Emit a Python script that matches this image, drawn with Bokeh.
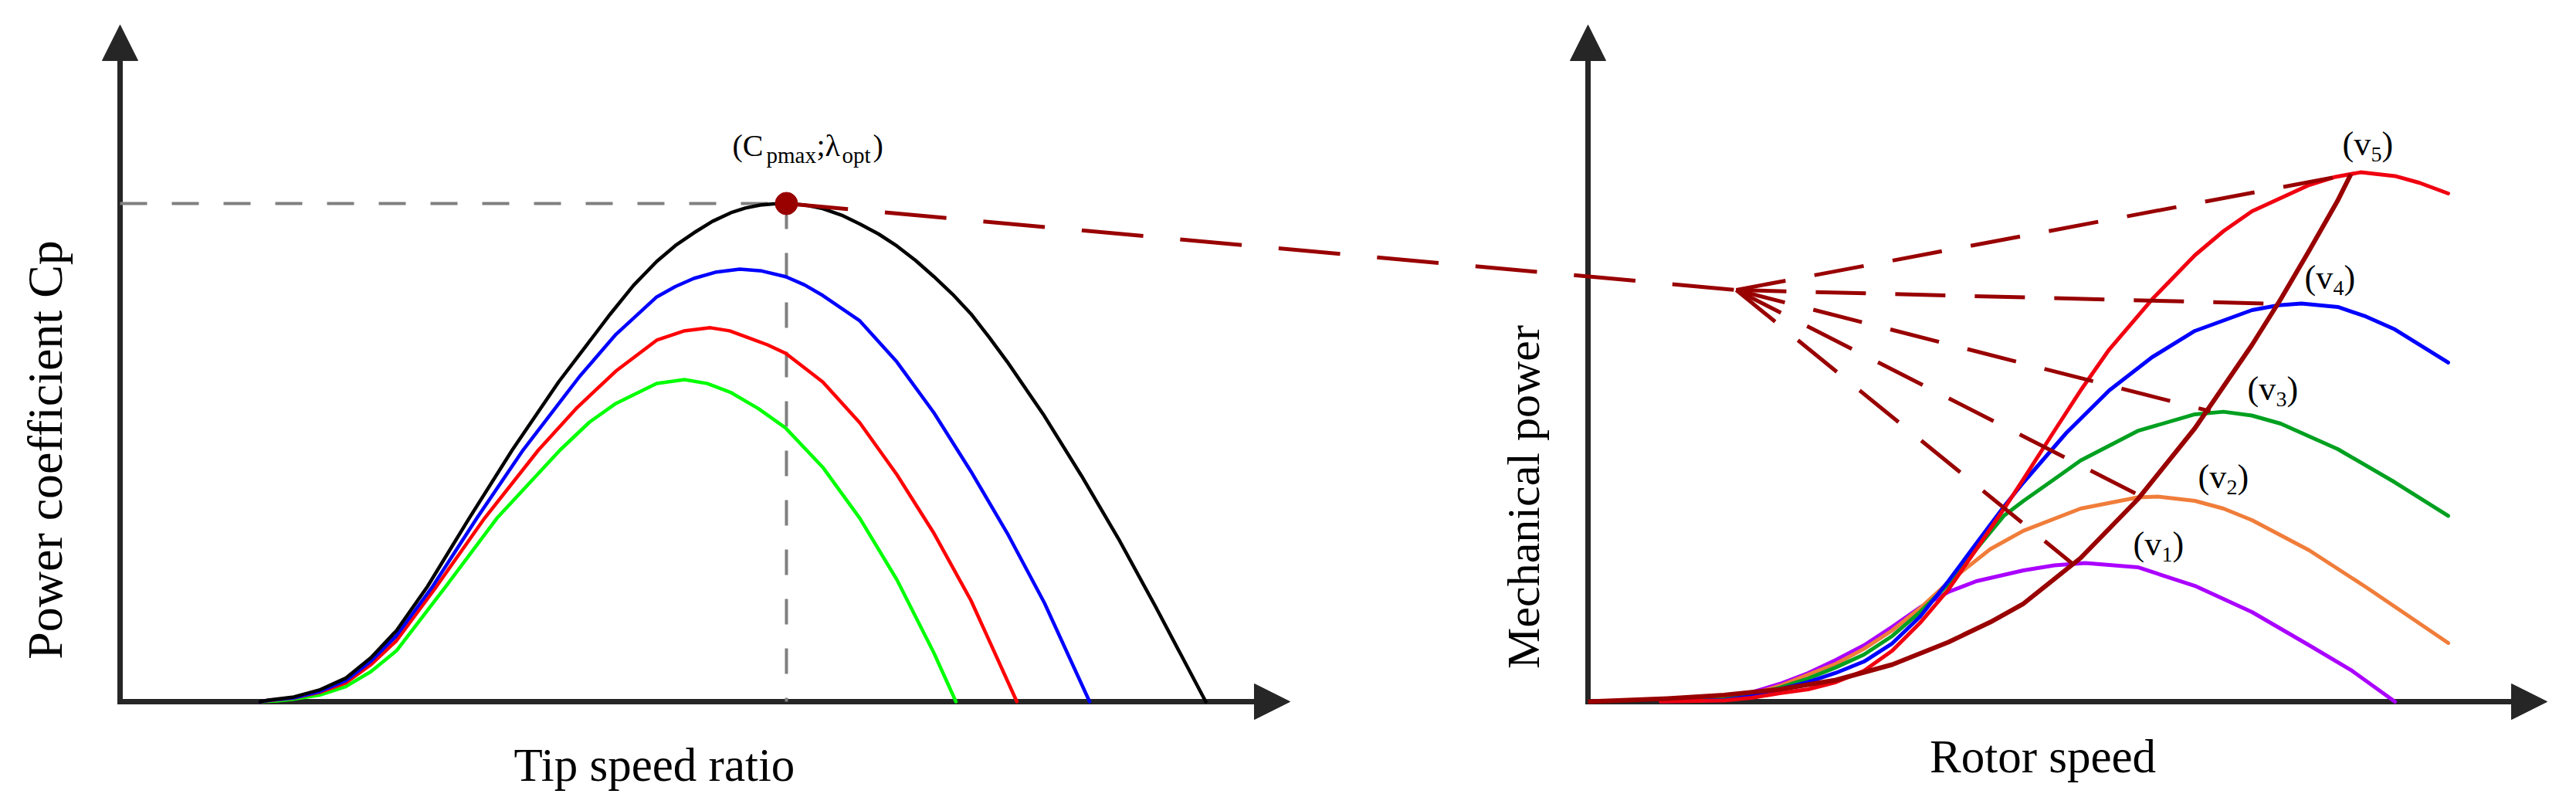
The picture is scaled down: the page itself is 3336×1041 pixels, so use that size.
from bokeh.plotting import figure
from bokeh.models import Range1d, Arrow, NormalHead, Label
from bokeh.embed import file_html
from bokeh.resources import INLINE
import math

# ---------------- data: left panel, power coefficient vs tip speed ratio ----------------
tsr_b0 = [1.70, 1.802, 2.112, 2.422, 2.741, 3.050, 3.360, 3.736, 4.243, 4.768, 5.331, 5.960, 6.240, 6.523, 6.750,
          6.974, 7.200, 7.424, 7.600, 7.781, 7.940, 8.100, 8.320, 8.541, 8.770, 8.992, 9.220, 9.442, 9.670, 9.893,
          10.120, 10.343, 10.560, 10.785, 11.235, 11.686, 12.136, 12.587, 13.197]
cp_b0 = [0.0, 0.0015, 0.0045, 0.0112, 0.0226, 0.0424, 0.0685, 0.1109, 0.1767, 0.2426, 0.3081, 0.3736, 0.4010, 0.4242,
         0.4395, 0.4517, 0.4628, 0.4711, 0.4756, 0.4785, 0.4797, 0.4800, 0.4786, 0.4751, 0.4688, 0.4603, 0.4506,
         0.4391, 0.4251, 0.4095, 0.3925, 0.3736, 0.3515, 0.3274, 0.2753, 0.2177, 0.1570, 0.0915, 0.0]

tsr_b1 = [1.70, 1.830, 2.112, 2.422, 2.741, 3.050, 3.360, 3.801, 4.336, 4.900, 5.585, 6.026, 6.523, 6.750, 6.974,
          7.250, 7.533, 7.800, 8.091, 8.320, 8.541, 8.992, 9.442, 9.893, 10.343, 10.785, 11.235, 11.785]
cp_b1 = [0.0, 0.0015, 0.0037, 0.0097, 0.0201, 0.0391, 0.0636, 0.1112, 0.1767, 0.2426, 0.3133, 0.3538, 0.3900, 0.4000,
         0.4078, 0.4140, 0.4167, 0.4150, 0.4095, 0.4016, 0.3914, 0.3669, 0.3274, 0.2783, 0.2218, 0.1622, 0.0953, 0.0]

tsr_b2 = [1.70, 1.858, 2.112, 2.422, 2.741, 3.050, 3.360, 3.848, 4.430, 5.087, 5.557, 6.026, 6.523, 6.852, 7.175,
          7.410, 7.646, 7.870, 8.091, 8.541, 8.992, 9.442, 9.893, 10.343, 10.901]
cp_b2 = [0.0, 0.0015, 0.0035, 0.0089, 0.0179, 0.0357, 0.0588, 0.1112, 0.1767, 0.2426, 0.2835, 0.3185, 0.3483, 0.3572,
         0.3603, 0.3573, 0.3505, 0.3438, 0.3356, 0.3081, 0.2687, 0.2188, 0.1622, 0.0975, 0.0]

tsr_b3 = [1.70, 1.896, 2.112, 2.422, 2.741, 3.050, 3.360, 3.961, 4.580, 5.350, 5.707, 6.026, 6.523, 6.861, 7.140,
          7.422, 7.760, 8.091, 8.541, 8.992, 9.442, 9.893, 10.160]
cp_b3 = [0.0, 0.0008, 0.0025, 0.0063, 0.0144, 0.0290, 0.0491, 0.1112, 0.1767, 0.2426, 0.2694, 0.2873, 0.3066, 0.3103,
         0.3065, 0.2980, 0.2823, 0.2636, 0.2259, 0.1767, 0.1176, 0.0469, 0.0]

tsr_opt = 8.1
cp_max = 0.48

# ---------------- data: right panel, mechanical power vs rotor speed (p.u.) ----------------
w_v1 = [0.0951, 0.1781, 0.2146, 0.2515, 0.2885, 0.3249, 0.3618, 0.3988, 0.4352, 0.4723, 0.5091, 0.5709, 0.6113,
        0.6518, 0.7206, 0.7955, 0.8704, 0.9453, 1.0014, 1.0577]
p_v1 = [0.0007, 0.0059, 0.0176, 0.0337, 0.0542, 0.0791, 0.1069, 0.1420, 0.1786, 0.2079, 0.2284, 0.2489, 0.2584,
        0.2628, 0.2548, 0.2196, 0.1698, 0.1069, 0.0586, 0.0]

w_v2 = [0.0951, 0.1781, 0.2146, 0.2515, 0.2885, 0.3249, 0.3618, 0.3988, 0.4352, 0.4723, 0.5273, 0.5709, 0.6457,
        0.7206, 0.7470, 0.7955, 0.8330, 0.8704, 0.9453, 1.0202, 1.0769, 1.1275]
p_v2 = [0.0007, 0.0051, 0.0146, 0.0300, 0.0512, 0.0717, 0.1001, 0.1351, 0.1772, 0.2262, 0.2892, 0.3242, 0.3660,
        0.3873, 0.3886, 0.3807, 0.3660, 0.3441, 0.2870, 0.2167, 0.1611, 0.1113]

w_v3 = [0.0951, 0.1781, 0.2146, 0.2515, 0.2885, 0.3249, 0.3618, 0.3988, 0.4352, 0.4723, 0.5091, 0.5455, 0.5709,
        0.6083, 0.6457, 0.7206, 0.7955, 0.8330, 0.8700, 0.9079, 0.9828, 1.0577, 1.1275]
p_v3 = [0.0007, 0.0044, 0.0132, 0.0264, 0.0439, 0.0650, 0.0893, 0.1245, 0.1698, 0.2225, 0.2892, 0.3529, 0.3807,
        0.4187, 0.4573, 0.5133, 0.5447, 0.5496, 0.5425, 0.5271, 0.4788, 0.4158, 0.3523]

w_v4 = [0.0951, 0.1781, 0.2146, 0.2515, 0.2885, 0.3249, 0.3618, 0.3988, 0.4352, 0.4723, 0.5091, 0.5455, 0.5709,
        0.6270, 0.6832, 0.7394, 0.7955, 0.8704, 0.9050, 0.9352, 0.9828, 1.0200, 1.0577, 1.1275]
p_v4 = [0.0007, 0.0029, 0.0102, 0.0234, 0.0370, 0.0546, 0.0761, 0.1105, 0.1611, 0.2284, 0.3001, 0.3704, 0.4158,
        0.5095, 0.5900, 0.6530, 0.7028, 0.7423, 0.7515, 0.7549, 0.7482, 0.7300, 0.7057, 0.6428]

w_v5 = [0.0951, 0.1781, 0.2146, 0.2515, 0.2885, 0.3249, 0.3618, 0.3988, 0.4352, 0.4723, 0.5091, 0.5455, 0.5709,
        0.6083, 0.6457, 0.6832, 0.7394, 0.7955, 0.8330, 0.8704, 0.9453, 0.9800, 1.0127, 1.0577, 1.0900, 1.1275]
p_v5 = [0.0003, 0.0022, 0.0073, 0.0161, 0.0234, 0.0370, 0.0586, 0.0966, 0.1493, 0.2123, 0.2892, 0.3660, 0.4223,
        0.5066, 0.5900, 0.6676, 0.7628, 0.8463, 0.8920, 0.9297, 0.9795, 0.9950, 1.0035, 0.9965, 0.9835, 0.9634]

w_mppt = [0.0, 0.1043, 0.1781, 0.2515, 0.3249, 0.3988, 0.4723, 0.5273, 0.5709, 0.6457, 0.7206, 0.7955, 0.8704,
          0.9079, 0.9453, 0.9828, 1.0]
p_mppt = [0.0, 0.0059, 0.0124, 0.0234, 0.0410, 0.0703, 0.1127, 0.1508, 0.1859, 0.2723, 0.3836, 0.5183, 0.6764,
          0.7628, 0.8551, 0.9502, 1.0]

w_opt = [0.6346, 0.7247, 0.8158, 0.9059, 1.0]
p_opt = [0.2621, 0.3895, 0.5505, 0.7540, 1.0]
v_names = ["1", "2", "3", "4", "5"]
w_conv, p_conv = 0.1943, 0.7804

# ---------------- layout / style ----------------
W, H = 3330, 1036
LX = (-1.45485, 29.80101)
LY = (-0.095256, 0.675721)
RX = (-2.080972, 1.289474)
RY = (-0.187408, 1.329429)
FONT = "Liberation Serif"
AX = "#262626"
DR = "#990000"
BASE = 0.34  # baseline correction (fraction of font size)

p = figure(width=W, height=H, x_range=Range1d(*LX), y_range=Range1d(*LY), title=None,
           output_backend="svg", toolbar_location=None, x_axis_location=None, y_axis_location=None,
           min_border=0, outline_line_color=None, background_fill_color="white",
           border_fill_color="white")
p.extra_x_ranges = {"w": Range1d(*RX)}
p.extra_y_ranges = {"pw": Range1d(*RY)}
p.grid.visible = False

R = dict(x_range_name="w", y_range_name="pw")


def axis_arrow(x0, y0, x1, y1, **kw):
    p.add_layout(Arrow(end=NormalHead(size=46, fill_color=AX, line_color=AX, line_width=1),
                       x_start=x0, y_start=y0, x_end=x1, y_end=y1,
                       line_color=AX, line_width=7, level="underlay", **kw))


# axes (arrows)
axis_arrow(-0.03, 0.0, 14.22, 0.0)
axis_arrow(0.0, -0.0026, 0.0, 0.652)
axis_arrow(-0.0035, 0.0, 1.2571, 0.0, **R)
axis_arrow(0.0, -0.005, 0.0, 1.2826, **R)

# guide lines at the optimum
p.line([0, tsr_opt], [cp_max, cp_max], line_color="#808080", line_width=4, line_dash="35 32")
p.line([tsr_opt, tsr_opt], [cp_max, 0], line_color="#808080", line_width=4, line_dash="33 31")

# Cp curves
for xs, ys, col in [(tsr_b3, cp_b3, "#00FF00"), (tsr_b2, cp_b2, "#FF0000"),
                    (tsr_b1, cp_b1, "#0000FF"), (tsr_b0, cp_b0, "#000000")]:
    p.line(xs, ys, line_color=col, line_width=4.5, line_join="round", line_cap="round")

# power curves
for xs, ys, col in [(w_v1, p_v1, "#AA00FF"), (w_v2, p_v2, "#F07D3A"), (w_v3, p_v3, "#00A020"),
                    (w_v4, p_v4, "#0000FF"), (w_v5, p_v5, "#F00010")]:
    p.line(xs, ys, line_color=col, line_width=5, line_join="round", line_cap="round", **R)

p.line(w_mppt, p_mppt, line_color=DR, line_width=6, line_join="round", **R)


# connector from the Cp optimum (left ranges) to the right panel
def l2r_x(v):
    return RX[0] + (v - LX[0]) * (RX[1] - RX[0]) / (LX[1] - LX[0])


def l2r_y(v):
    return RY[0] + (v - LY[0]) * (RY[1] - RY[0]) / (LY[1] - LY[0])


p.line([l2r_x(tsr_opt), w_conv], [l2r_y(cp_max), p_conv], line_color=DR, line_width=5,
       line_dash="80 48", **R)
for wo, po in zip(w_opt, p_opt):
    p.line([w_conv, wo], [p_conv, po], line_color=DR, line_width=5, line_dash="65 38", **R)

p.scatter([tsr_opt], [cp_max], marker="circle", size=29, fill_color=DR, line_color=DR)


def pieces_label(x, y, dx0, dy0, pieces, **kw):
    for txt, size, dx, dy in pieces:
        p.add_layout(Label(x=x, y=y, x_offset=dx0 + dx, y_offset=dy0 + dy + BASE * size, text=txt,
                           text_font=FONT, text_font_size=f"{size}px", text_color="black",
                           text_align="left", text_baseline="alphabetic", **kw))


# optimum label
pieces_label(tsr_opt, cp_max, -70, 61,
             [("(C", 40, 0, 0), ("pmax", 29, 44, -8), (";λ", 40, 109, 0),
              ("opt", 29, 142, -8), (")", 40, 182, 0)])

# wind speed labels
label_dx = [79, 74, 48, 33, -11]
label_dy = [10, 10, 14, 19, 24]
for wo, po, nm, dx, dy in zip(w_opt, p_opt, v_names, label_dx, label_dy):
    pieces_label(wo, po, dx, dy, [("(v", 44, 0, 0), (nm, 28, 37, -8), (")", 44, 51, 0)], **R)


def axis_title(x, y, text, size, rotated=False, **kw):
    if rotated:
        kw.update(angle=math.pi / 2, x_offset=-BASE * size)
    else:
        kw.update(y_offset=BASE * size)
    p.add_layout(Label(x=x, y=y, text=text, text_font=FONT, text_font_size=f"{size}px",
                       text_align="center", text_baseline="alphabetic", text_color="black", **kw))


axis_title(6.495, -0.07665, "Tip speed ratio", 61)
axis_title(0.5962, -0.1347, "Rotor speed", 61, **R)
axis_title(-0.704, 0.2426, "Power coefficient Cp", 64, rotated=True)
axis_title(-0.0638, 0.388, "Mechanical power", 60, rotated=True, **R)

open("out.html", "w").write(file_html(p, INLINE, "Cp and power curves"))
